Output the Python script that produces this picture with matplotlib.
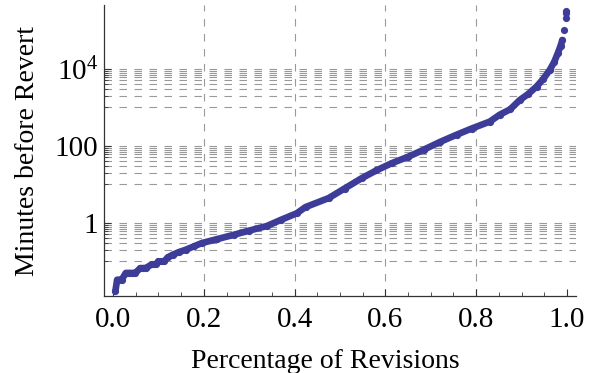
import matplotlib
matplotlib.use('Agg')
import matplotlib.pyplot as plt
from matplotlib.ticker import FixedLocator, NullFormatter

plt.rcParams['font.family'] = ['Liberation Serif', 'DejaVu Serif']
plt.rcParams['mathtext.fontset'] = 'custom'
plt.rcParams['mathtext.rm'] = 'Liberation Serif'

# quantile curve: fraction of revisions vs minutes before revert
pct = [0.005,
       0.009, 0.014, 0.019,
       0.028, 0.035, 0.042, 0.049,
       0.060, 0.066, 0.072,
       0.085, 0.090, 0.094,
       0.100, 0.106, 0.113,
       0.120, 0.131, 0.145, 0.160, 0.178, 0.196, 0.230, 0.266, 0.300,
       0.339, 0.370, 0.405, 0.424, 0.475, 0.510, 0.548, 0.580, 0.614,
       0.650, 0.684, 0.720, 0.757, 0.790, 0.830, 0.852, 0.875, 0.896,
       0.915, 0.933, 0.948, 0.962, 0.972, 0.980, 0.986, 0.990]
minutes = [0.0167,
           0.0333, 0.0333, 0.0333,
           0.05, 0.05, 0.05, 0.05,
           0.0667, 0.0667, 0.0667,
           0.0833, 0.0833, 0.0833,
           0.1, 0.1, 0.1,
           0.126, 0.148, 0.174, 0.20, 0.245, 0.30, 0.38, 0.49, 0.63,
           0.83, 1.2, 1.78, 2.57, 4.4, 7.8, 14.5, 23, 35.5,
           52, 79, 126, 195, 282, 427, 646, 891, 1549,
           2239, 3467, 5495, 9333, 15136, 25704, 39811, 56234]

# isolated points at the very top
tail_pct = [0.994, 0.997, 0.998, 0.999]
tail_minutes = [102000, 209000, 282000, 316000]

x_ticks = [0.0, 0.2, 0.4, 0.6, 0.8, 1.0]
x_tick_labels = ['0.0', '0.2', '0.4', '0.6', '0.8', '1.0']
x_minor = [0.05, 0.1, 0.15, 0.25, 0.3, 0.35, 0.45, 0.5, 0.55,
           0.65, 0.7, 0.75, 0.85, 0.9, 0.95]
y_ticks = [1, 100, 1e4]
y_tick_labels = ['1', '100', r'$\mathregular{10^4}$']
y_grid = [k * 10.0 ** e for e in (-1, 1, 3) for k in range(1, 11)]
x_grid = [0.2, 0.4, 0.6, 0.8]

color = '#3d3d99'
grid_style = dict(color='#999999', lw=0.8, ls=(0, (6.75, 6.75)), zorder=1)

fig = plt.figure(figsize=(5.95, 3.73), dpi=100)
ax = fig.add_axes([104 / 595, 77 / 373, 472 / 595, 291 / 373])

for v in y_grid:
    ax.axhline(v, **grid_style)
for v in x_grid:
    ax.axvline(v, **grid_style)

ax.plot(pct, minutes, color=color, lw=4.8, solid_capstyle='round',
        solid_joinstyle='round', marker='o', ms=5.2, mew=0, zorder=3)
ax.plot(tail_pct, tail_minutes, ls='none', color=color, marker='o',
        ms=5.2, mew=0, zorder=3)

ax.set_yscale('log')
ax.set_xlim(-0.02, 1.02)
ax.set_ylim(10 ** -1.9, 10 ** 5.66)

ax.xaxis.set_major_locator(FixedLocator(x_ticks))
ax.set_xticklabels(x_tick_labels)
ax.xaxis.set_minor_locator(FixedLocator(x_minor))
ax.yaxis.set_major_locator(FixedLocator(y_ticks))
ax.set_yticklabels(y_tick_labels)
ax.yaxis.set_minor_locator(FixedLocator([v for v in y_grid if v not in y_ticks]))
ax.yaxis.set_minor_formatter(NullFormatter())

ax.tick_params(which='both', direction='in', labelsize=21, color='#333333')
ax.tick_params(which='major', length=5, width=0.8)
ax.tick_params(which='minor', length=3, width=0.6)
ax.tick_params(axis='x', pad=8)
ax.tick_params(axis='y', pad=4)

for side in ('top', 'right'):
    ax.spines[side].set_visible(False)
for side in ('left', 'bottom'):
    ax.spines[side].set_color('#333333')
    ax.spines[side].set_linewidth(0.9)

ax.set_xlabel('Percentage of Revisions', fontsize=20, va='baseline')
ax.xaxis.set_label_coords((325 - 104) / 472, (296 - 368) / 291)
ax.set_ylabel('Minutes before Revert', fontsize=20, va='baseline')
ax.yaxis.set_label_coords((34 - 104) / 472, 0.5)

fig.savefig('out.png', dpi=100)
